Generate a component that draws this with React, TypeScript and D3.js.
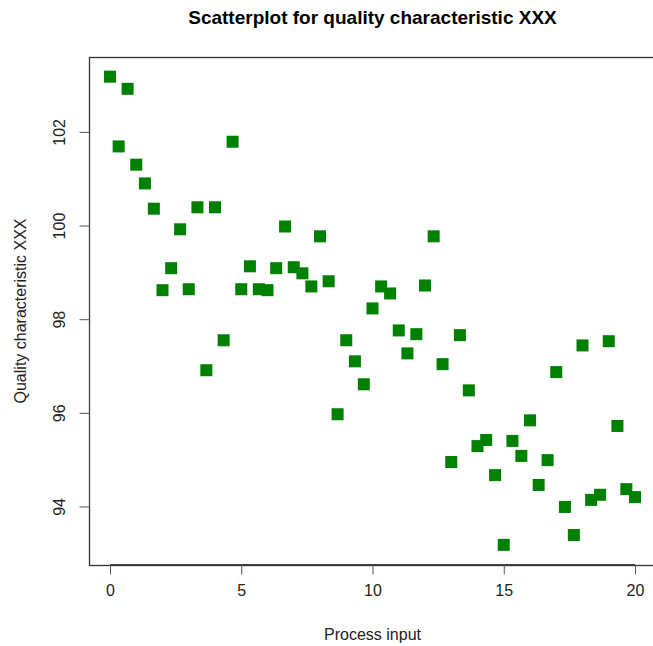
import React, { useRef, useEffect } from 'react';
import * as d3 from 'd3';

const processInput = [
  0, 0.33, 0.67, 1, 1.33, 1.67, 2, 2.33, 2.67, 3, 3.33, 3.67, 4, 4.33, 4.67,
  5, 5.33, 5.67, 6, 6.33, 6.67, 7, 7.33, 7.67, 8, 8.33, 8.67, 9, 9.33, 9.67,
  10, 10.33, 10.67, 11, 11.33, 11.67, 12, 12.33, 12.67, 13, 13.33, 13.67, 14, 14.33, 14.67,
  15, 15.33, 15.67, 16, 16.33, 16.67, 17, 17.33, 17.67, 18, 18.33, 18.67, 19, 19.33, 19.67, 20,
];

const quality = [
  103.18, 101.69, 102.92, 101.30, 100.90, 100.36, 98.62, 99.09, 99.92, 98.64,
  100.39, 96.91, 100.39, 97.55, 101.79, 98.64, 99.13, 98.64, 98.62, 99.09,
  99.98, 99.11, 98.98, 98.70, 99.77, 98.81, 95.97, 97.55, 97.10, 96.61,
  98.23, 98.70, 98.55, 97.76, 97.27, 97.68, 98.72, 99.77, 97.04, 94.95,
  97.66, 96.48, 95.29, 95.42, 94.67, 93.18, 95.40, 95.08, 95.84, 94.46,
  94.99, 96.87, 93.99, 93.39, 97.44, 94.14, 94.25, 97.53, 95.72, 94.37,
  94.20,
];

const xTicks = [0, 5, 10, 15, 20];
const yTicks = [94, 96, 98, 100, 102];

const title = 'Scatterplot for quality characteristic XXX';
const xLabel = 'Process input';
const yLabel = 'Quality characteristic XXX';

export default function App() {
  const svgRef = useRef<SVGSVGElement>(null);

  useEffect(() => {
    const width = 653;
    const height = 646;
    const svg = d3.select(svgRef.current);
    svg.selectAll('*').remove();

    const font = 'Liberation Sans, Arial, sans-serif';
    const data = processInput.map((x, i) => ({ x, y: quality[i] }));

    // R-style 4% padding on both axes
    const xScale = d3.scaleLinear().domain([-0.8, 20.8]).range([89, 656]);
    const yScale = d3.scaleLinear().domain([92.75, 103.6]).range([565, 57]);

    svg.append('rect')
      .attr('width', width)
      .attr('height', height)
      .attr('fill', 'white');

    // plot box
    svg.append('rect')
      .attr('x', 89.5)
      .attr('y', 57.5)
      .attr('width', 656 - 89)
      .attr('height', 565 - 57)
      .attr('fill', 'none')
      .attr('stroke', '#333')
      .attr('stroke-width', 1.3);

    const xAxis = d3.axisBottom(xScale)
      .tickValues(xTicks)
      .tickSize(10)
      .tickPadding(10)
      .tickFormat(d3.format('d'));

    const xAxisG = svg.append('g')
      .attr('transform', 'translate(0,564.5)')
      .call(xAxis);
    xAxisG.select('.domain')
      .attr('d', `M${xScale(0)},0H${xScale(20)}`)
      .attr('stroke', '#444');
    xAxisG.selectAll('.tick line').attr('stroke', '#555');
    xAxisG.selectAll('.tick text')
      .attr('fill', '#222')
      .style('font', `16px ${font}`);

    const yAxis = d3.axisLeft(yScale)
      .tickValues(yTicks)
      .tickSize(10)
      .tickPadding(0)
      .tickFormat(d3.format('d'));

    const yAxisG = svg.append('g')
      .attr('transform', 'translate(89.5,0)')
      .call(yAxis);
    yAxisG.select('.domain')
      .attr('d', `M0,${yScale(94)}V${yScale(102)}`)
      .attr('stroke', '#444');
    yAxisG.selectAll('.tick line').attr('stroke', '#555');
    yAxisG.selectAll('.tick text')
      .attr('x', 0)
      .attr('dy', 0)
      .attr('fill', '#222')
      .attr('text-anchor', 'middle')
      .attr('dominant-baseline', 'central')
      .attr('transform', 'translate(-30,0) rotate(-90)')
      .style('font', `16px ${font}`);

    svg.append('g')
      .selectAll('rect')
      .data(data)
      .enter().append('rect')
        .attr('x', d => xScale(d.x) - 6)
        .attr('y', d => yScale(d.y) - 6)
        .attr('width', 12)
        .attr('height', 12)
        .attr('fill', '#008000');

    svg.append('text')
      .attr('x', 372.5)
      .attr('y', 24)
      .attr('text-anchor', 'middle')
      .attr('fill', '#000')
      .style('font', `bold 19px ${font}`)
      .text(title);

    svg.append('text')
      .attr('x', 372.5)
      .attr('y', 640)
      .attr('text-anchor', 'middle')
      .attr('fill', '#222')
      .style('font', `16px ${font}`)
      .text(xLabel);

    svg.append('text')
      .attr('transform', `translate(26,311) rotate(-90)`)
      .attr('text-anchor', 'middle')
      .attr('fill', '#222')
      .style('font', `16px ${font}`)
      .text(yLabel);
  }, []);

  return (
    <svg
      ref={svgRef}
      width={653}
      height={646}
      style={{ position: 'absolute', left: 0, top: 0 }}
    />
  );
}
